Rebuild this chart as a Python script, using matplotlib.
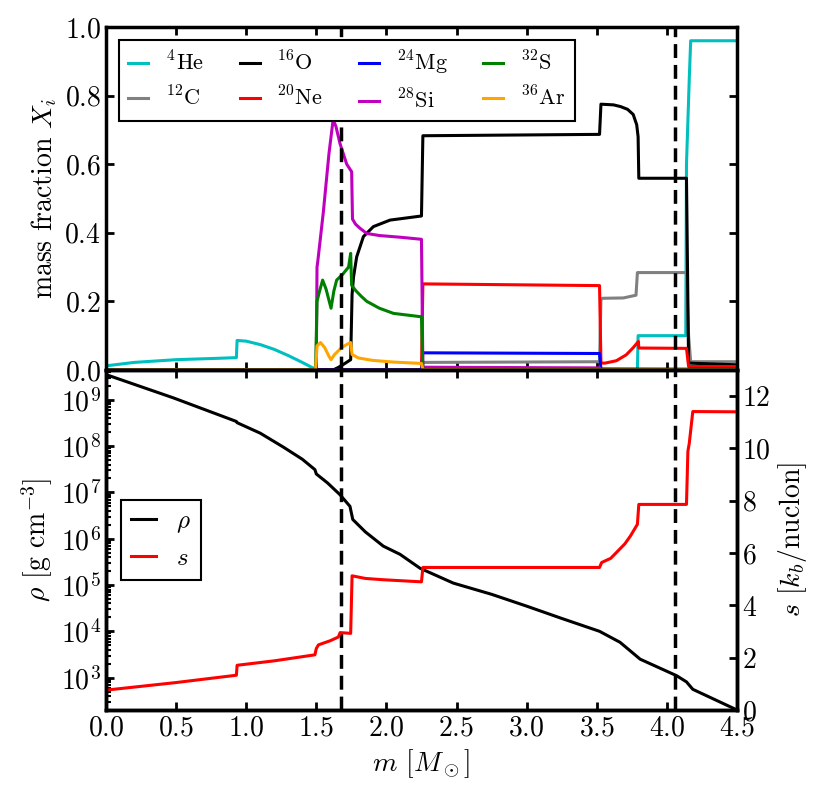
import matplotlib
matplotlib.use("Agg")
import matplotlib.pyplot as plt
from matplotlib.ticker import LogLocator, NullFormatter

plt.rcParams['font.family'] = 'cmr10'
plt.rcParams['mathtext.fontset'] = 'cm'
plt.rcParams['axes.formatter.use_mathtext'] = True
plt.rcParams['axes.linewidth'] = 2.5
plt.rcParams['xtick.direction'] = 'in'
plt.rcParams['ytick.direction'] = 'in'
plt.rcParams['xtick.major.size'] = 6
plt.rcParams['ytick.major.size'] = 6
plt.rcParams['xtick.major.width'] = 2
plt.rcParams['ytick.major.width'] = 2
plt.rcParams['ytick.minor.size'] = 3.5
plt.rcParams['ytick.minor.width'] = 1.5
plt.rcParams['xtick.labelsize'] = 20
plt.rcParams['ytick.labelsize'] = 20

# mass coordinate breakpoints (M_sun) and mass fractions
m_he = [0, 0.2, 0.5, 0.8, 0.93, 0.935, 1.0, 1.1, 1.2, 1.3, 1.4, 1.48, 1.5,
        3.79, 3.795, 4.135, 4.14, 4.16, 4.17, 4.5]
x_he = [0.012, 0.022, 0.030, 0.034, 0.036, 0.086, 0.084, 0.074, 0.06, 0.042,
        0.022, 0.005, 0.0, 0.0, 0.1, 0.1, 0.6, 0.85, 0.96, 0.96]

m_c = [0, 2.25, 2.26, 3.52, 3.53, 3.54, 3.69, 3.78, 3.79, 3.80, 4.14, 4.155,
       4.17, 4.5]
x_c = [0, 0, 0.022, 0.024, 0.205, 0.209, 0.21, 0.218, 0.284, 0.284, 0.284,
       0.1, 0.024, 0.024]

m_o = [0, 1.62, 1.66, 1.70, 1.745, 1.755, 1.765, 1.788, 1.836, 1.907, 2.026,
       2.25, 2.26, 3.52, 3.53, 3.62, 3.67, 3.72, 3.76, 3.785, 3.795, 3.80,
       4.14, 4.155, 4.5]
x_o = [0, 0, 0.008, 0.018, 0.03, 0.22, 0.27, 0.33, 0.389, 0.418, 0.437,
       0.449, 0.683, 0.687, 0.775, 0.773, 0.768, 0.76, 0.745, 0.715, 0.68,
       0.559, 0.559, 0.02, 0.015]

m_ne = [0, 2.25, 2.26, 3.52, 3.53, 3.56, 3.64, 3.71, 3.76, 3.797, 3.80,
        4.14, 4.155, 4.5]
x_ne = [0, 0, 0.251, 0.246, 0.02, 0.02, 0.027, 0.044, 0.065, 0.083, 0.064,
        0.063, 0.01, 0.01]

m_mg = [0, 2.25, 2.26, 3.52, 3.53, 4.5]
x_mg = [0, 0, 0.05, 0.048, 0.003, 0.002]

m_si = [0, 1.49, 1.50, 1.505, 1.51, 1.55, 1.59, 1.62, 1.64, 1.669, 1.717,
        1.752, 1.758, 1.78, 1.812, 1.86, 1.95, 2.1, 2.25, 2.26, 3.52, 3.53,
        4.5]
x_si = [0, 0, 0.02, 0.30, 0.315, 0.46, 0.63, 0.73, 0.71, 0.66, 0.60, 0.578,
        0.44, 0.425, 0.413, 0.398, 0.392, 0.387, 0.381, 0.008, 0.006, 0.0, 0.0]

m_s32 = [0, 1.495, 1.505, 1.52, 1.545, 1.57, 1.605, 1.625, 1.645, 1.69, 1.73,
         1.745, 1.752, 1.78, 1.82, 1.86, 1.95, 2.05, 2.25, 2.26, 4.5]
x_s32 = [0, 0, 0.20, 0.225, 0.262, 0.235, 0.18, 0.23, 0.262, 0.28, 0.30,
         0.34, 0.247, 0.232, 0.215, 0.2, 0.18, 0.165, 0.155, 0.002, 0.0]

m_ar = [0, 1.495, 1.505, 1.53, 1.56, 1.59, 1.605, 1.63, 1.68, 1.72, 1.745,
        1.755, 1.80, 1.9, 2.05, 2.25, 2.26, 4.5]
x_ar = [0, 0, 0.07, 0.08, 0.065, 0.04, 0.03, 0.045, 0.065, 0.075, 0.08,
        0.045, 0.035, 0.028, 0.023, 0.019, 0.001, 0.0]

# density and entropy profiles
m_rho = [0, 0.48, 0.93, 0.935, 1.1, 1.265, 1.40, 1.49, 1.50, 1.58, 1.669,
         1.74, 1.76, 1.85, 1.978, 2.097, 2.24, 2.477, 2.75, 3.0, 3.25, 3.52,
         3.666, 3.81, 4.07, 4.14, 4.185, 4.486, 4.5]
rho = [3.5e9, 1.1e9, 3.4e8, 3.2e8, 1.9e8, 9.5e7, 5.2e7, 3.1e7, 2.5e7, 1.6e7,
       8.9e6, 5.0e6, 2.6e6, 1.4e6, 6.9e5, 4.6e5, 2.3e5, 1.1e5, 6.3e4, 3.5e4,
       1.9e4, 1.0e4, 5.8e3, 2.5e3, 1.1e3, 8.1e2, 5.6e2, 2.1e2, 2.0e2]

m_ent = [0, 0.5, 0.93, 0.935, 1.2, 1.49, 1.50, 1.515, 1.6, 1.657, 1.67,
         1.745, 1.755, 1.85, 1.978, 2.25, 2.26, 3.52, 3.535, 3.60, 3.64, 3.70,
         3.74, 3.79, 3.80, 4.14, 4.15, 4.16, 4.185, 4.5]
ent = [0.76, 1.05, 1.33, 1.71, 1.88, 2.11, 2.35, 2.49, 2.65, 2.79, 2.96,
       2.93, 5.13, 5.03, 4.98, 4.90, 5.45, 5.45, 5.64, 5.80, 6.02, 6.35, 6.65,
       7.1, 7.86, 7.86, 9.89, 10.2, 11.41, 11.4]

m_dash = [1.675, 4.06]
m_ticks = [0, 0.5, 1, 1.5, 2, 2.5, 3, 3.5, 4, 4.5]

species = [
    (m_he, x_he, 'c', r'$^{4}$He'),
    (m_c, x_c, 'gray', r'$^{12}$C'),
    (m_o, x_o, 'k', r'$^{16}$O'),
    (m_ne, x_ne, 'r', r'$^{20}$Ne'),
    (m_mg, x_mg, 'b', r'$^{24}$Mg'),
    (m_si, x_si, 'm', r'$^{28}$Si'),
    (m_s32, x_s32, 'g', r'$^{32}$S'),
    (m_ar, x_ar, 'orange', r'$^{36}$Ar'),
]

fig = plt.figure(figsize=(8.3, 8.02), dpi=100)
ax1 = fig.add_axes([0.1277, 0.5387, 0.7602, 0.4276])
ax2 = fig.add_axes([0.1277, 0.1147, 0.7602, 0.4240])
ax3 = ax2.twinx()

for mm, xx, col, lab in species:
    ax1.plot(mm, xx, color=col, lw=2.2, label=lab)
for xd in m_dash:
    ax1.axvline(xd, color='k', lw=2.5, ls=(0, (4.0, 2.0)))
ax1.set_xlim(0, 4.5)
ax1.set_ylim(0, 1.0)
ax1.set_xticks(m_ticks)
ax1.set_xticklabels([])
ax1.set_yticks([0, 0.2, 0.4, 0.6, 0.8, 1.0])
ax1.tick_params(top=True, right=True)
ax1.set_ylabel(r'mass fraction $X_i$', fontsize=20)
leg1 = ax1.legend(loc='upper left', ncol=4, fontsize=16, handlelength=0.9,
                  columnspacing=1.6, fancybox=False, framealpha=1,
                  edgecolor='k', borderaxespad=0.6)
leg1.get_frame().set_linewidth(1.5)

l_rho, = ax2.plot(m_rho, rho, color='k', lw=2.2, label=r'$\rho$')
for xd in m_dash:
    ax2.axvline(xd, color='k', lw=2.5, ls=(0, (4.0, 2.0)))
ax2.set_yscale('log')
ax2.set_xlim(0, 4.5)
ax2.set_ylim(2.0e2, 4.4e9)
ax2.yaxis.set_major_locator(LogLocator(base=10, numticks=30))
ax2.yaxis.set_minor_locator(LogLocator(base=10, subs=range(2, 10), numticks=200))
ax2.yaxis.set_minor_formatter(NullFormatter())
ax2.set_xticks(m_ticks)
ax2.tick_params(top=True)
ax2.tick_params(axis='y', which='both', left=True, right=False)
ax2.set_ylabel(r'$\rho$ [g cm$^{-3}$]', fontsize=20)
ax2.set_xlabel(r'$m$ [$M_\odot$]', fontsize=20)

l_s, = ax3.plot(m_ent, ent, color='r', lw=2.2, label=r'$s$')
ax3.set_ylim(0, 13)
ax3.set_yticks([0, 2, 4, 6, 8, 10, 12])
ax3.set_ylabel(r'$s$ [$k_b$/nuclon]', fontsize=20)

leg2 = ax3.legend([l_rho, l_s], [r'$\rho$', r'$s$'], loc='center left',
                  fontsize=18, handlelength=1.0, fancybox=False, framealpha=1,
                  edgecolor='k', borderaxespad=0.6)
leg2.get_frame().set_linewidth(1.5)

fig.savefig('out.png', dpi=100)
